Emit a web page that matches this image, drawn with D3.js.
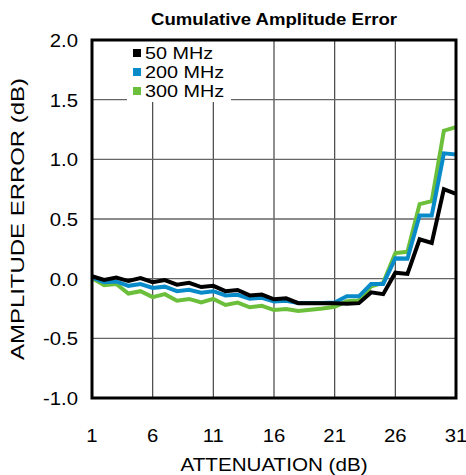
<!DOCTYPE html>
<html>
<head>
<meta charset="utf-8">
<script src="https://cdn.jsdelivr.net/npm/d3@7"></script>
<style>
  body { margin: 0; background: #fff; }
  text { font-family: "Liberation Sans", Arial, sans-serif; }
</style>
</head>
<body>
<div id="chart"></div>
<script>
// data
const attenuation = [1, 2, 3, 4, 5, 6, 7, 8, 9, 10, 11, 12, 13, 14, 15, 16,
  17, 18, 19, 20, 21, 22, 23, 24, 25, 26, 27, 28, 29, 30, 31];
const err50 = [0.02, -0.01, 0.01, -0.02, 0.005, -0.03, -0.012, -0.05, -0.035, -0.07,
  -0.06, -0.105, -0.095, -0.14, -0.133, -0.173, -0.165, -0.205, -0.205, -0.207,
  -0.207, -0.21, -0.205, -0.115, -0.13, 0.05, 0.04, 0.33, 0.3, 0.75, 0.71];
const err200 = [0.01, -0.03, -0.023, -0.06, -0.045, -0.078, -0.067, -0.105, -0.093, -0.118,
  -0.105, -0.14, -0.135, -0.168, -0.16, -0.192, -0.185, -0.204, -0.204, -0.204,
  -0.2, -0.148, -0.148, -0.045, -0.045, 0.17, 0.168, 0.53, 0.53, 1.05, 1.04];
const err300 = [0.005, -0.055, -0.045, -0.125, -0.105, -0.155, -0.13, -0.185, -0.17, -0.2,
  -0.17, -0.22, -0.2, -0.24, -0.227, -0.263, -0.255, -0.27, -0.26, -0.25,
  -0.235, -0.19, -0.182, -0.065, -0.035, 0.215, 0.225, 0.625, 0.65, 1.24, 1.27];
const seriesNames = ["50 MHz", "200 MHz", "300 MHz"];
const seriesColors = ["#000000", "#0a8bc9", "#6cbf3a"];
const xTicks = [1, 6, 11, 16, 21, 26, 31];
const yTicks = [-1.0, -0.5, 0.0, 0.5, 1.0, 1.5, 2.0];

const W = 466, H = 475;
const margin = { top: 40, right: 10, bottom: 77, left: 92 };
const width = W - margin.left - margin.right;
const height = H - margin.top - margin.bottom;

const svg = d3.select("#chart")
  .append("svg")
    .attr("width", W)
    .attr("height", H);

const g = svg.append("g")
    .attr("transform", `translate(${margin.left},${margin.top})`);

// text helper, stretched horizontally (reference glyphs are wider)
function label(parent, px, py, str, size, anchor, sx) {
  return parent.append("g")
      .attr("transform", `translate(${px},${py}) scale(${sx},1)`)
    .append("text")
      .attr("text-anchor", anchor)
      .attr("font-size", size)
      .text(str);
}

const x = d3.scaleLinear().domain([1, 31]).range([0, width]);
const y = d3.scaleLinear().domain([-1, 2]).range([height, 0]);

// grid
g.append("g")
  .selectAll("line")
  .data(xTicks.slice(1, -1))
  .join("line")
    .attr("x1", d => x(d)).attr("x2", d => x(d))
    .attr("y1", 0).attr("y2", height)
    .attr("stroke", "#444").attr("stroke-width", 1.2);
g.append("g")
  .selectAll("line")
  .data(yTicks.slice(1, -1))
  .join("line")
    .attr("x1", 0).attr("x2", width)
    .attr("y1", d => y(d)).attr("y2", d => y(d))
    .attr("stroke", "#666").attr("stroke-width", 1.4);

// legend background hides the grid
g.append("rect")
  .attr("x", 35).attr("y", 0)
  .attr("width", 104).attr("height", 62)
  .attr("fill", "#fff");

// lines
const series = [err50, err200, err300];
const line = d3.line()
  .x((d, i) => x(attenuation[i]))
  .y(d => y(d));
[2, 1, 0].forEach(k => {
  g.append("path")
    .datum(series[k])
    .attr("d", line)
    .attr("fill", "none")
    .attr("stroke", seriesColors[k])
    .attr("stroke-width", 4)
    .attr("stroke-linejoin", "miter");
});

// frame
g.append("rect")
  .attr("width", width).attr("height", height)
  .attr("fill", "none")
  .attr("stroke", "#000").attr("stroke-width", 3);

// legend
const leg = g.append("g").attr("transform", "translate(41,9)");
seriesNames.forEach((name, i) => {
  leg.append("rect")
    .attr("x", 0).attr("y", i * 19)
    .attr("width", 8).attr("height", 8)
    .attr("fill", seriesColors[i]);
  label(leg, 12, i * 19 + 10, name, 16.5, "start", 1.2);
});

// tick labels
yTicks.forEach(d => {
  label(g, -14, y(d) + 7, d.toFixed(1), 19, "end", 1.07);
});
xTicks.forEach(d => {
  label(g, x(d), height + 44, d, 19, "middle", 1.07);
});

// titles
svg.append("text")
  .attr("x", margin.left + width / 2).attr("y", 25)
  .attr("text-anchor", "middle")
  .attr("font-size", 17).attr("font-weight", "bold")
  .attr("textLength", 246).attr("lengthAdjust", "spacingAndGlyphs")
  .text("Cumulative Amplitude Error");
svg.append("text")
  .attr("x", margin.left + width / 2).attr("y", 471)
  .attr("text-anchor", "middle")
  .attr("font-size", 19)
  .attr("textLength", 187).attr("lengthAdjust", "spacingAndGlyphs")
  .text("ATTENUATION (dB)");
svg.append("text")
  .attr("transform", `translate(24,${margin.top + height / 2}) rotate(-90)`)
  .attr("text-anchor", "middle")
  .attr("font-size", 19)
  .attr("textLength", 282).attr("lengthAdjust", "spacingAndGlyphs")
  .text("AMPLITUDE ERROR (dB)");
</script>
</body>
</html>
